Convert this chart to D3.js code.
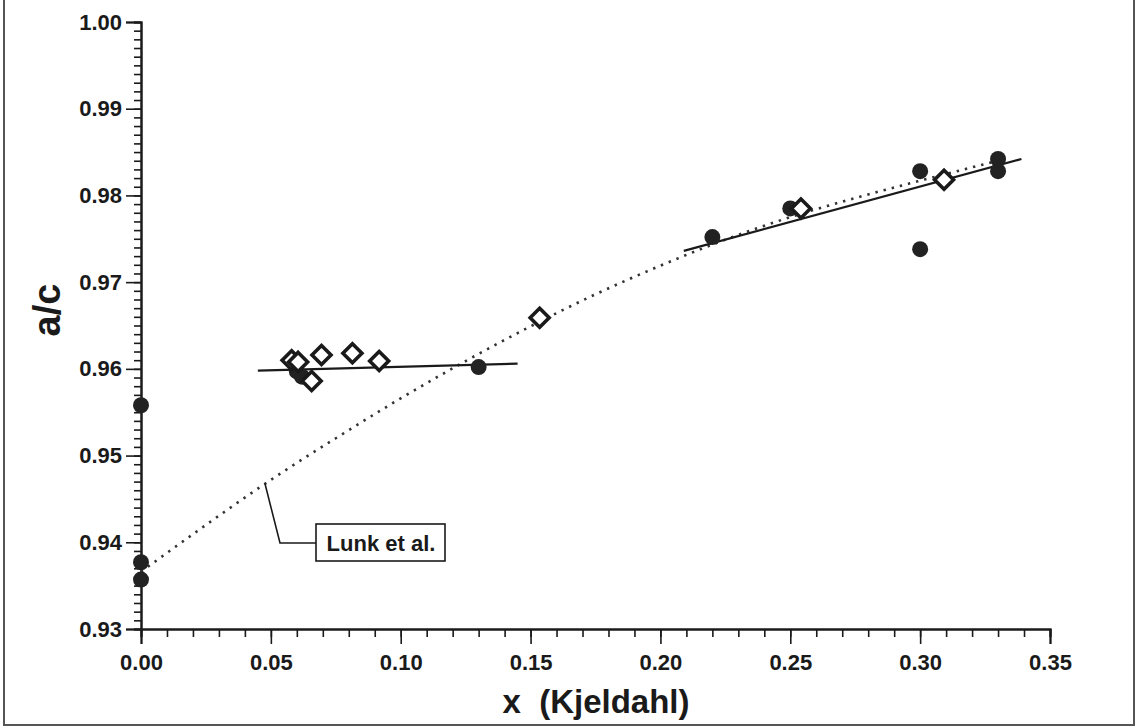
<!DOCTYPE html>
<html>
<head>
<meta charset="utf-8">
<script src="https://cdn.jsdelivr.net/npm/d3@7"></script>
<style>
  body { margin: 0; background: #fff; }
  svg { display: block; font-family: "Liberation Sans", Arial, sans-serif; }
</style>
</head>
<body>
<script>
// data

// filled circles
var circlesX = [0.000, 0.000, 0.000, 0.060, 0.062, 0.130, 0.220, 0.250, 0.300, 0.300, 0.330, 0.330];
var circlesY = [0.9558, 0.9377, 0.9357, 0.9597, 0.9591, 0.9602, 0.9752, 0.9785, 0.9828, 0.9738, 0.9842, 0.9828];

// open diamonds
var diamondsX = [0.058, 0.0605, 0.0657, 0.0695, 0.0814, 0.0917, 0.1535, 0.2541, 0.3092];
var diamondsY = [0.9610, 0.9608, 0.9586, 0.9616, 0.9618, 0.9609, 0.9659, 0.9785, 0.9818];

// solid fit lines (end points)
var fit1X = [0.045, 0.145];
var fit1Y = [0.9598, 0.9606];
var fit2X = [0.209, 0.339];
var fit2Y = [0.9736, 0.9842];

// dotted curve (Lunk et al.)
var lunkX = [0.000, 0.025, 0.050, 0.075, 0.100, 0.125, 0.150, 0.175, 0.200, 0.225, 0.250, 0.275, 0.300, 0.330];
var lunkY = [0.9366, 0.9420, 0.9472, 0.9520, 0.9566, 0.9609, 0.9649, 0.9686, 0.9719, 0.9749, 0.9775, 0.9797, 0.9817, 0.9840];

// axis ticks
var xTicks = [0.00, 0.05, 0.10, 0.15, 0.20, 0.25, 0.30, 0.35];
var yTicks = [0.93, 0.94, 0.95, 0.96, 0.97, 0.98, 0.99, 1.00];

var W = 1139, H = 727;
var ink = "#1a1a1a";

var svg = d3.select("body").append("svg")
    .attr("width", W)
    .attr("height", H);

// outer frame
svg.append("path")
    .attr("d", "M4,0 V725 H1134 V0")
    .attr("fill", "none")
    .attr("stroke", "#555")
    .attr("stroke-width", 2);

var x = d3.scaleLinear().domain([0, 0.35]).range([141, 1050]);
var y = d3.scaleLinear().domain([0.93, 1.00]).range([629, 22]);

// minor ticks
var xMinor = d3.range(0, 0.3501, 0.01);
var yMinor = d3.range(0.93, 1.0001, 0.001);

svg.append("g").attr("transform", "translate(0," + y(0.93) + ")")
    .call(d3.axisBottom(x).tickValues(xMinor).tickSize(8).tickFormat(""));
svg.append("g").attr("transform", "translate(0," + y(0.93) + ")")
    .call(d3.axisBottom(x).tickValues(xTicks).tickSize(15).tickPadding(10)
        .tickFormat(d3.format(".2f")));

svg.append("g").attr("transform", "translate(" + x(0) + ",0)")
    .call(d3.axisLeft(y).tickValues(yMinor).tickSize(7).tickFormat(""));
svg.append("g").attr("transform", "translate(" + x(0) + ",0)")
    .call(d3.axisLeft(y).tickValues(yTicks).tickSize(15).tickPadding(4)
        .tickFormat(d3.format(".2f")));

svg.selectAll(".domain").attr("stroke", ink).attr("stroke-width", 2);
svg.selectAll(".tick line").attr("stroke", ink).attr("stroke-width", 1.6);
svg.selectAll(".tick text")
    .attr("fill", ink)
    .style("font-size", "22px")
    .style("font-weight", "bold");

// axis titles
svg.append("text")
    .attr("x", 596).attr("y", 713)
    .attr("text-anchor", "middle")
    .attr("fill", ink)
    .style("font-size", "33px")
    .style("font-weight", "bold")
    .style("white-space", "pre")
    .text("x  (Kjeldahl)");

svg.append("text")
    .attr("transform", "translate(60,310) rotate(-90)")
    .attr("text-anchor", "middle")
    .attr("fill", ink)
    .style("font-size", "38px")
    .style("font-weight", "bold")
    .text("a/c");

// dotted curve
var lunk = lunkX.map(function (d, i) { return [d, lunkY[i]]; });
svg.append("path")
    .datum(lunk)
    .attr("d", d3.line().x(function (d) { return x(d[0]); }).y(function (d) { return y(d[1]); })
        .curve(d3.curveMonotoneX))
    .attr("fill", "none")
    .attr("stroke", "#333")
    .attr("stroke-width", 2.6)
    .attr("stroke-dasharray", "2.4 6");

// fit lines
[[fit1X, fit1Y], [fit2X, fit2Y]].forEach(function (f) {
    svg.append("line")
        .attr("x1", x(f[0][0])).attr("y1", y(f[1][0]))
        .attr("x2", x(f[0][1])).attr("y2", y(f[1][1]))
        .attr("stroke", ink)
        .attr("stroke-width", 2.2);
});

// circles
svg.append("g").selectAll("circle")
    .data(circlesX.map(function (d, i) { return [d, circlesY[i]]; }))
    .enter().append("circle")
    .attr("cx", function (d) { return x(d[0]); })
    .attr("cy", function (d) { return y(d[1]); })
    .attr("r", 8)
    .attr("fill", "#222");

// diamonds
svg.append("g").selectAll("path")
    .data(diamondsX.map(function (d, i) { return [d, diamondsY[i]]; }))
    .enter().append("path")
    .attr("transform", function (d) { return "translate(" + x(d[0]) + "," + y(d[1]) + ")"; })
    .attr("d", "M0,-9.5 L9.5,0 L0,9.5 L-9.5,0 Z")
    .attr("fill", "#fff")
    .attr("stroke", ink)
    .attr("stroke-width", 3.6);

// Lunk et al. label with leader line
var lx = 0.0477;
svg.append("path")
    .attr("d", "M" + x(lx) + "," + (y(lunkY[2] - 0.0004)) + " L280,543 H316")
    .attr("fill", "none")
    .attr("stroke", ink)
    .attr("stroke-width", 1.6);

svg.append("rect")
    .attr("x", 316).attr("y", 524)
    .attr("width", 129).attr("height", 37)
    .attr("fill", "#fff")
    .attr("stroke", ink)
    .attr("stroke-width", 1.6);

svg.append("text")
    .attr("x", 381).attr("y", 551)
    .attr("text-anchor", "middle")
    .attr("fill", ink)
    .style("font-size", "22px")
    .style("font-weight", "bold")
    .text("Lunk et al.");
</script>
</body>
</html>
